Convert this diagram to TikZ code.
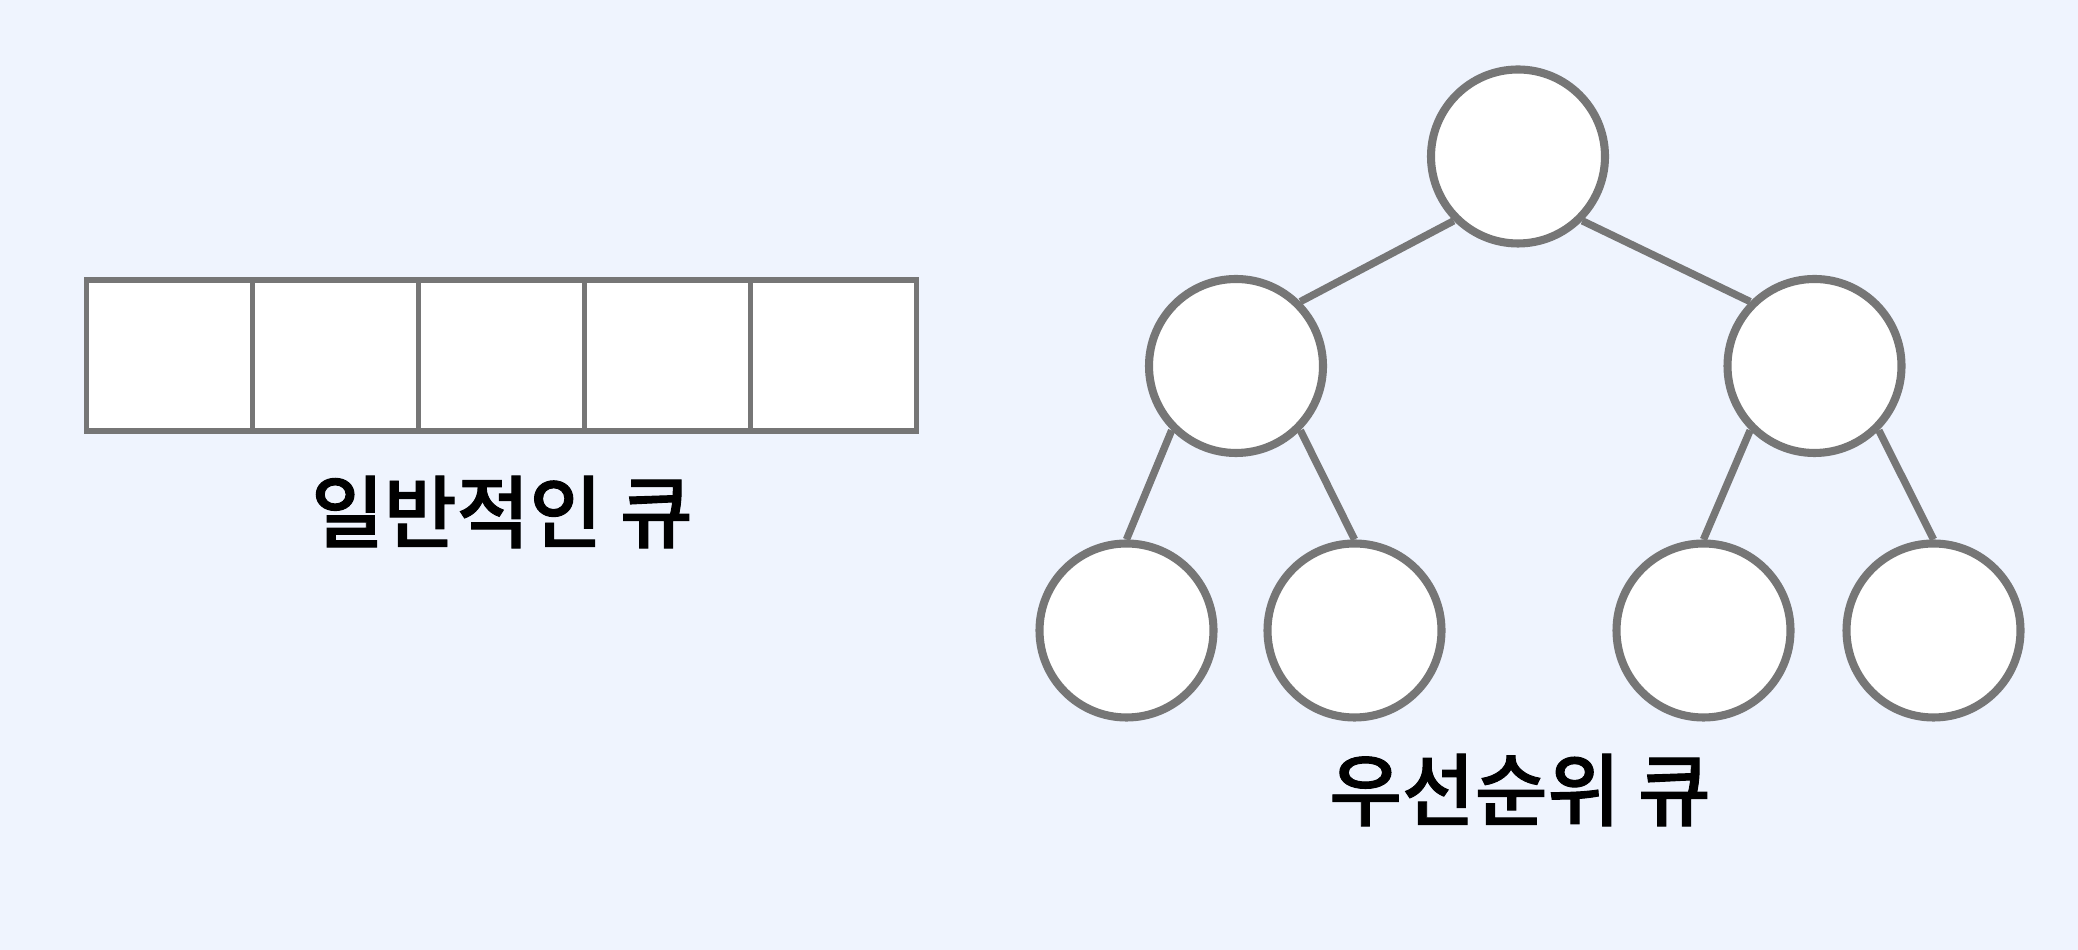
\documentclass[tikz,border=0pt]{standalone}
\usepackage{fontspec}
\newfontfamily\kofont{Noto Sans CJK KR Medium}[FakeBold=1.2]
\usetikzlibrary{positioning}
\definecolor{bgblue}{HTML}{EFF4FE}
\definecolor{edgegray}{HTML}{767676}
\tikzset{
  cell/.style={draw=edgegray,line width=1.6pt,fill=white,minimum width=1.66cm,minimum height=1.51cm,inner sep=0pt,outer sep=0pt},
  heapnode/.style={circle,draw=edgegray,line width=2.3pt,fill=white,minimum size=1.74cm,inner sep=0pt},
  heapedge/.style={draw=edgegray,line width=2.1pt},
  caption/.style={font=\kofont\fontsize{22.5}{27}\selectfont,inner sep=0pt}
}
\begin{document}
\begin{tikzpicture}
\fill[bgblue] (0,0) rectangle (20.78,9.50);
\useasboundingbox (0,0) rectangle (20.78,9.50);
% ordinary queue
\node[cell] (q1) at (1.695,5.945) {};
\node[cell,right=0pt of q1] (q2) {};
\node[cell,right=0pt of q2] (q3) {};
\node[cell,right=0pt of q3] (q4) {};
\node[cell,right=0pt of q4] (q5) {};
\node[caption] (qlabel) at (5.02,4.38) {일반적인 큐};
% heap
\node[heapnode] (root) at (15.18,7.935) {};
\node[heapnode] (left) at (12.36,5.84) {};
\node[heapnode] (right) at (18.145,5.84) {};
\node[heapnode] (ll) at (11.265,3.195) {};
\node[heapnode] (lr) at (13.545,3.195) {};
\node[heapnode] (rl) at (17.035,3.195) {};
\node[heapnode] (rr) at (19.335,3.195) {};
\draw[heapedge] (root.225) -- (left.45);
\draw[heapedge] (root.-45) -- (right.135);
\draw[heapedge] (left.225) -- (ll.north);
\draw[heapedge] (left.-45) -- (lr.north);
\draw[heapedge] (right.225) -- (rl.north);
\draw[heapedge] (right.-45) -- (rr.north);
\node[caption] (hlabel) at (15.20,1.60) {우선순위 큐};
\end{tikzpicture}
\end{document}
